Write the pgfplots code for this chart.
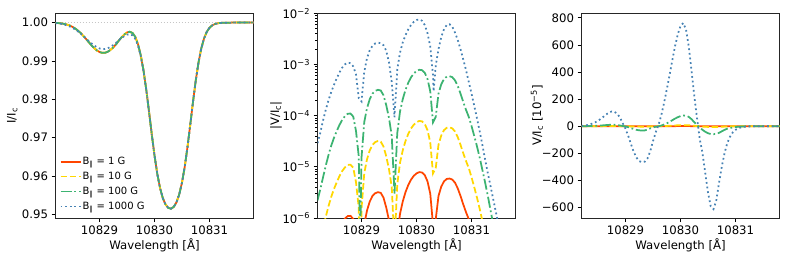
\documentclass[border=0pt]{standalone}
\usepackage{fontspec}
\setmainfont{DejaVu Sans}
\usepackage{pgfplots}
\usepackage{pgfplotstable}
\pgfplotsset{compat=1.18}
\definecolor{cR}{RGB}{255,69,0}
\definecolor{cY}{RGB}{255,215,0}
\definecolor{cG}{RGB}{60,179,113}
\definecolor{cB}{RGB}{70,130,180}

\pgfplotstableread{
lam i i1000
10828.20 0.99993 0.99986
10828.25 0.99988 0.99979
10828.30 0.99981 0.99968
10828.35 0.99969 0.99953
10828.40 0.99952 0.99932
10828.45 0.99929 0.99905
10828.50 0.99896 0.99871
10828.55 0.99854 0.99829
10828.60 0.99801 0.99780
10828.65 0.99738 0.99723
10828.70 0.99664 0.99660
10828.75 0.99583 0.99593
10828.80 0.99499 0.99527
10828.85 0.99416 0.99463
10828.90 0.99341 0.99406
10828.95 0.99278 0.99360
10829.00 0.99234 0.99327
10829.05 0.99212 0.99311
10829.10 0.99214 0.99313
10829.15 0.99241 0.99332
10829.20 0.99289 0.99368
10829.25 0.99355 0.99416
10829.30 0.99432 0.99475
10829.35 0.99530 0.99540
10829.40 0.99615 0.99596
10829.45 0.99690 0.99649
10829.50 0.99745 0.99687
10829.55 0.99762 0.99698
10829.60 0.99730 0.99667
10829.65 0.99630 0.99576
10829.70 0.99440 0.99403
10829.75 0.99150 0.99127
10829.80 0.98755 0.98740
10829.85 0.98258 0.98246
10829.90 0.97687 0.97678
10829.95 0.97095 0.97089
10830.00 0.96539 0.96535
10830.05 0.96066 0.96061
10830.10 0.95695 0.95692
10830.15 0.95431 0.95431
10830.20 0.95261 0.95261
10830.25 0.95171 0.95171
10830.30 0.95151 0.95151
10830.35 0.95198 0.95198
10830.40 0.95318 0.95318
10830.45 0.95524 0.95524
10830.50 0.95831 0.95831
10830.55 0.96245 0.96245
10830.60 0.96758 0.96758
10830.65 0.97338 0.97338
10830.70 0.97934 0.97934
10830.75 0.98489 0.98489
10830.80 0.98959 0.98959
10830.85 0.99324 0.99324
10830.90 0.99584 0.99584
10830.95 0.99758 0.99758
10831.00 0.99866 0.99866
10831.05 0.99929 0.99929
10831.10 0.99964 0.99964
10831.15 0.99983 0.99983
10831.20 0.99992 0.99992
10831.25 0.99996 0.99996
10831.30 0.99998 0.99998
10831.40 1.00000 1.00000
10831.50 1.00000 1.00000
10831.60 1.00000 1.00000
10831.70 1.00000 1.00000
10831.80 1.00000 1.00000
}\tabI

% Stokes V for 1, 10, 100 G in units of 1e-5 (s = signed, a = absolute)
\pgfplotstableread{
lam s1 s10 s100 a1 a10 a100
10828.20 0.0022 0.022 0.22 0.0022 0.022 0.22
10828.25 0.0036 0.036 0.36 0.0036 0.036 0.36
10828.30 0.0062 0.062 0.62 0.0062 0.062 0.62
10828.35 0.0105 0.105 1.05 0.0105 0.105 1.05
10828.40 0.017 0.17 1.7 0.017 0.17 1.7
10828.45 0.026 0.26 2.6 0.026 0.26 2.6
10828.50 0.037 0.37 3.7 0.037 0.37 3.7
10828.55 0.05 0.5 5.0 0.05 0.5 5.0
10828.60 0.066 0.66 6.6 0.066 0.66 6.6
10828.65 0.083 0.83 8.3 0.083 0.83 8.3
10828.70 0.098 0.98 9.8 0.098 0.98 9.8
10828.75 0.109 1.09 10.9 0.109 1.09 10.9
10828.80 0.11 1.1 11.0 0.11 1.1 11.0
10828.85 0.096 0.96 9.6 0.096 0.96 9.6
10828.90 0.05 0.5 5.0 0.05 0.5 5.0
10828.95 0.016 0.16 1.6 0.016 0.16 1.6
10828.975 0.0003 0.003 0.03 0.0003 0.003 0.03
10829.00 -0.015 -0.15 -1.5 0.015 0.15 1.5
10829.05 -0.075 -0.75 -7.5 0.075 0.75 7.5
10829.10 -0.14 -1.4 -14 0.14 1.4 14
10829.15 -0.21 -2.1 -21 0.21 2.1 21
10829.20 -0.27 -2.7 -27 0.27 2.7 27
10829.25 -0.305 -3.05 -30.5 0.305 3.05 30.5
10829.30 -0.32 -3.2 -32 0.32 3.2 32
10829.35 -0.31 -3.1 -31 0.31 3.1 31
10829.40 -0.25 -2.5 -25 0.25 2.5 25
10829.45 -0.16 -1.6 -16 0.16 1.6 16
10829.50 -0.09 -0.9 -9 0.09 0.9 9
10829.55 -0.04 -0.4 -4 0.04 0.4 4
10829.60 -0.003 -0.03 -0.3 0.003 0.03 0.3
10829.65 0.045 0.45 4.5 0.045 0.45 4.5
10829.70 0.12 1.2 12 0.12 1.2 12
10829.75 0.21 2.1 21 0.21 2.1 21
10829.80 0.32 3.2 32 0.32 3.2 32
10829.85 0.44 4.4 44 0.44 4.4 44
10829.90 0.56 5.6 56 0.56 5.6 56
10829.95 0.665 6.65 66.5 0.665 6.65 66.5
10830.00 0.745 7.45 74.5 0.745 7.45 74.5
10830.05 0.788 7.88 78.8 0.788 7.88 78.8
10830.10 0.775 7.75 77.5 0.775 7.75 77.5
10830.15 0.69 6.9 69 0.69 6.9 69
10830.20 0.52 5.2 52 0.52 5.2 52
10830.25 0.30 3.0 30 0.30 3.0 30
10830.30 0.074 0.74 7.4 0.074 0.74 7.4
10830.35 -0.095 -0.95 -9.5 0.095 0.95 9.5
10830.40 -0.27 -2.7 -27 0.27 2.7 27
10830.45 -0.41 -4.1 -41 0.41 4.1 41
10830.50 -0.52 -5.2 -52 0.52 5.2 52
10830.55 -0.58 -5.8 -58 0.58 5.8 58
10830.60 -0.59 -5.9 -59 0.59 5.9 59
10830.65 -0.565 -5.65 -56.5 0.565 5.65 56.5
10830.70 -0.49 -4.9 -49 0.49 4.9 49
10830.75 -0.38 -3.8 -38 0.38 3.8 38
10830.80 -0.27 -2.7 -27 0.27 2.7 27
10830.85 -0.185 -1.85 -18.5 0.185 1.85 18.5
10830.90 -0.13 -1.3 -13 0.13 1.3 13
10830.95 -0.095 -0.95 -9.5 0.095 0.95 9.5
10831.00 -0.063 -0.63 -6.3 0.063 0.63 6.3
10831.05 -0.04 -0.4 -4.0 0.04 0.4 4.0
10831.10 -0.025 -0.25 -2.5 0.025 0.25 2.5
10831.15 -0.015 -0.15 -1.5 0.015 0.15 1.5
10831.20 -0.0085 -0.085 -0.85 0.0085 0.085 0.85
10831.25 -0.0048 -0.048 -0.48 0.0048 0.048 0.48
10831.30 -0.0026 -0.026 -0.26 0.0026 0.026 0.26
10831.35 -0.00135 -0.0135 -0.135 0.00135 0.0135 0.135
10831.40 -0.0007 -0.007 -0.07 0.0007 0.007 0.07
10831.45 -0.00036 -0.0036 -0.036 0.00036 0.0036 0.036
10831.50 -0.00018 -0.0018 -0.018 0.00018 0.0018 0.018
10831.55 -0.00009 -0.0009 -0.009 0.00009 0.0009 0.009
10831.60 -0.000045 -0.00045 -0.0045 0.000045 0.00045 0.0045
10831.65 -0.000022 -0.00022 -0.0022 0.000022 0.00022 0.0022
10831.70 -0.00001 -0.0001 -0.001 0.00001 0.0001 0.001
10831.75 -0.000005 -0.00005 -0.0005 0.000005 0.00005 0.0005
10831.80 -0.0000025 -0.000025 -0.00025 0.0000025 0.000025 0.00025
}\tabV

% Stokes V for 1000 G in units of 1e-5
\pgfplotstableread{
lam s a
10828.20 2.9 2.9
10828.25 4.6 4.6
10828.30 8.0 8.0
10828.35 13 13
10828.40 20 20
10828.45 29 29
10828.50 40 40
10828.55 54 54
10828.60 70 70
10828.65 87 87
10828.70 101 101
10828.75 109 109
10828.80 106 106
10828.85 92 92
10828.90 64 64
10828.95 22 22
10829.00 -19 19
10829.05 -72 72
10829.10 -133 133
10829.15 -190 190
10829.20 -232 232
10829.25 -258 258
10829.30 -266 266
10829.35 -262 262
10829.40 -238 238
10829.45 -185 185
10829.50 -110 110
10829.55 -45 45
10829.60 9.3 9.3
10829.65 80 80
10829.70 170 170
10829.75 270 270
10829.80 375 375
10829.85 485 485
10829.90 590 590
10829.95 678 678
10830.00 740 740
10830.05 762 762
10830.10 715 715
10830.15 590 590
10830.20 410 410
10830.25 225 225
10830.30 62 62
10830.31 30 30
10830.35 -95 95
10830.40 -200 200
10830.45 -345 345
10830.50 -490 490
10830.55 -592 592
10830.60 -612 612
10830.65 -550 550
10830.70 -420 420
10830.75 -300 300
10830.80 -200 200
10830.85 -125 125
10830.90 -78 78
10830.95 -46 46
10831.00 -27 27
10831.05 -15.5 15.5
10831.10 -8.8 8.8
10831.15 -4.9 4.9
10831.20 -2.6 2.6
10831.25 -1.35 1.35
10831.30 -0.72 0.72
10831.35 -0.40 0.40
10831.40 -0.22 0.22
10831.45 -0.12 0.12
10831.50 -0.066 0.066
10831.55 -0.036 0.036
10831.60 -0.02 0.02
10831.65 -0.011 0.011
10831.70 -0.006 0.006
10831.75 -0.0033 0.0033
10831.80 -0.0018 0.0018
}\tabW

\pgfplotsset{
  myax/.style={
    scale only axis, width=198pt, height=204.7pt,
    anchor=south west,
    xmin=10828.2, xmax=10831.8,
    scaled x ticks=false, scaled y ticks=false,
    xtick={10829,10830,10831}, xticklabels={10829,10830,10831},
    tick align=outside, tick pos=left,
    major tick length=4pt, minor tick length=2.3pt,
    every tick/.style={black, line width=0.8pt},
    axis line style={line width=0.8pt, black!85},
    tick label style={font=\fontsize{11.7}{13}\selectfont},
    label style={font=\fontsize{11.7}{13}\selectfont},
    xlabel={Wavelength [Å]},
    xlabel style={at={(axis description cs:0.5,-0.132)}, anchor=center},
  },
  lR/.style={cR, line width=1.75pt},
  lY/.style={cY, line width=1.75pt, dash pattern=on 6.5pt off 2.8pt},
  lG/.style={cG, line width=1.75pt, dash pattern=on 11pt off 2.8pt on 1.75pt off 2.8pt},
  lB/.style={cB, line width=1.75pt, dash pattern=on 1.75pt off 2.9pt},
}

\begin{document}
\begin{tikzpicture}
\useasboundingbox (0,0) rectangle (789pt,263pt);

% Panel 1
\begin{axis}[myax, at={(55.5pt,45pt)},
  ymin=0.94908, ymax=1.00243,
  ytick={0.95,0.96,0.97,0.98,0.99,1.00},
  yticklabels={0.95,0.96,0.97,0.98,0.99,1.00},
  ylabel={I/I\textsubscript{c}},
  ylabel style={at={(axis description cs:-0.218,0.5)}, anchor=center},
  legend style={at={(axis description cs:0.02,0.028)}, anchor=south west,
    draw=none, fill=none, font=\fontsize{10}{12}\selectfont,
    row sep=3.6pt, inner sep=0pt, nodes={inner sep=1.2pt}},
  legend cell align=left,
  legend image code/.code={\draw[#1] (0pt,0pt) -- (20pt,0pt);},
]
\addplot[gray!45, line width=0.8pt, dash pattern=on 1.2pt off 1.8pt, forget plot] coordinates {(10828.2,1) (10831.8,1)};
\addplot[lR] table[x=lam, y=i] {\tabI};
\addlegendentry{B\textsubscript{∥} = 1 G}
\addplot[lY] table[x=lam, y=i] {\tabI};
\addlegendentry{B\textsubscript{∥} = 10 G}
\addplot[lG] table[x=lam, y=i] {\tabI};
\addlegendentry{B\textsubscript{∥} = 100 G}
\addplot[lB] table[x=lam, y=i1000] {\tabI};
\addlegendentry{B\textsubscript{∥} = 1000 G}
\end{axis}

% Panel 2
\begin{axis}[myax, at={(317.5pt,45pt)},
  ymode=log, ymin=0.1, ymax=1000,
  ytick={0.1,1,10,100,1000},
  yticklabels={10\textsuperscript{−6},10\textsuperscript{−5},10\textsuperscript{−4},10\textsuperscript{−3},10\textsuperscript{−2}},
  minor ytick={0.2,0.3,0.4,0.5,0.6,0.7,0.8,0.9,2,3,4,5,6,7,8,9,20,30,40,50,60,70,80,90,200,300,400,500,600,700,800,900},
  ylabel={|V/I\textsubscript{c}|},
  ylabel style={at={(axis description cs:-0.21,0.5)}, anchor=center},
]
\addplot[lR] table[x=lam, y=a1] {\tabV};
\addplot[lY] table[x=lam, y=a10] {\tabV};
\addplot[lG] table[x=lam, y=a100] {\tabV};
\addplot[lB] table[x=lam, y=a] {\tabW};
\end{axis}

% Panel 3
\begin{axis}[myax, at={(581.5pt,45pt)},
  ymin=-678, ymax=834,
  ytick={-600,-400,-200,0,200,400,600,800},
  yticklabels={−600,−400,−200,0,200,400,600,800},
  ylabel={V/I\textsubscript{c} [10\textsuperscript{−5}]},
  ylabel style={at={(axis description cs:-0.225,0.5)}, anchor=center},
]
\addplot[lR] table[x=lam, y=s1] {\tabV};
\addplot[lY] table[x=lam, y=s10] {\tabV};
\addplot[lG] table[x=lam, y=s100] {\tabV};
\addplot[lB] table[x=lam, y=s] {\tabW};
\end{axis}
\end{tikzpicture}
\end{document}
